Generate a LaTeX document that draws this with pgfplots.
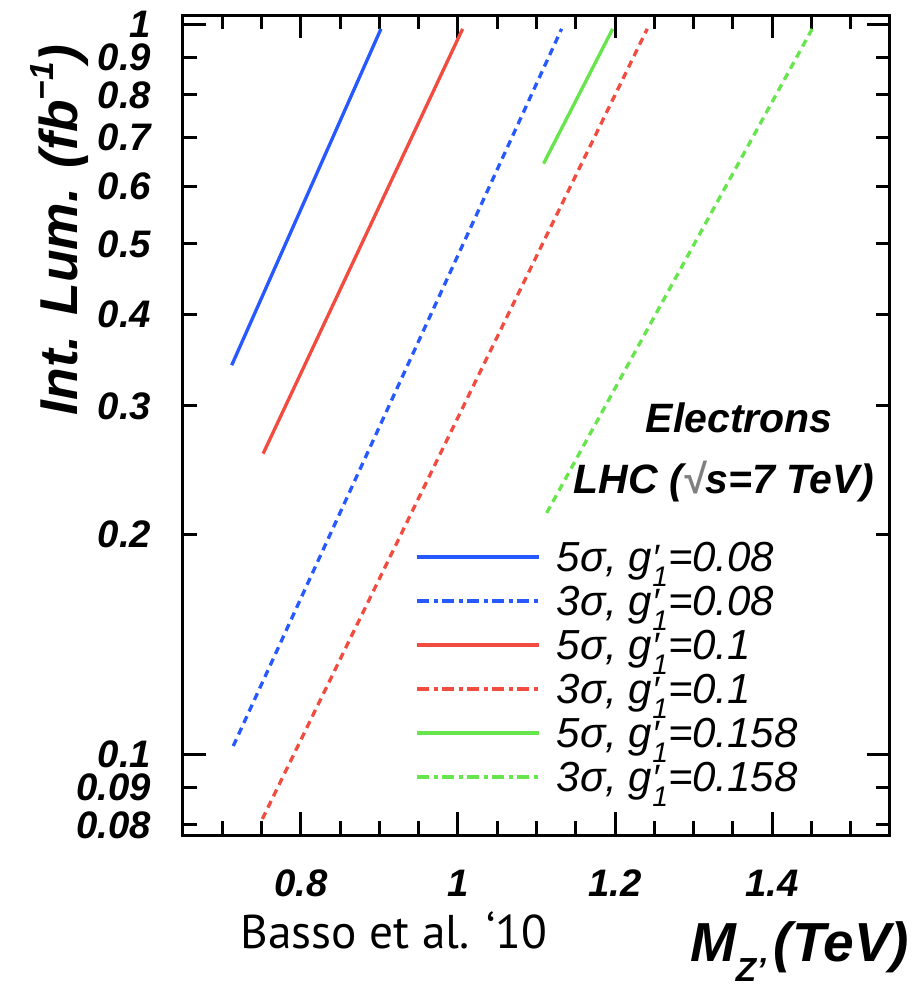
\documentclass[border=0pt]{standalone}
\usepackage{pgfplots}
\pgfplotsset{compat=1.18}
\usepackage{fontspec}
\setmainfont{Liberation Sans}
\newfontfamily\basso{PT Sans}

\definecolor{lblue}{rgb}{0.15,0.35,1}
\definecolor{lred}{rgb}{0.95,0.3,0.25}
\definecolor{lgreen}{rgb}{0.4,0.9,0.3}

% g'_1 in ROOT style: prime above, 1 below
\newcommand{\gone}{g\rlap{\fontsize{11}{11}\selectfont\raisebox{0.05em}{′}}\raisebox{-0.35em}{\fontsize{8.5}{8.5}\selectfont 1}}

\begin{document}
\begin{tikzpicture}
\begin{axis}[
  scale only axis,
  width=212.1pt, height=246pt,
  ymode=log,
  xmin=0.65, xmax=1.55,
  ymin=0.0775, ymax=1.029,
  clip=false,
  axis line style={line width=0.9pt},
  every tick/.style={black, line width=0.9pt},
  tick align=inside, tick pos=both,
  major tick length=7pt, minor tick length=4.3pt,
  xtick={0.8,1,1.2,1.4},
  xticklabels={0.8,1,1.2,1.4},
  minor xtick={0.7,0.75,0.85,0.9,0.95,1.05,1.1,1.15,1.25,1.3,1.35,1.45,1.5},
  ytick={0.1,1},
  yticklabels={0.1,1},
  minor ytick={0.08,0.09,0.2,0.3,0.4,0.5,0.6,0.7,0.8,0.9},
  extra y ticks={0.08,0.09,0.2,0.3,0.4,0.5,0.6,0.7,0.8,0.9},
  extra y tick labels={0.08,0.09,0.2,0.3,0.4,0.5,0.6,0.7,0.8,0.9},
  extra y tick style={tick style={draw=none}},
  /pgf/number format/assume math mode=true,
  tick label style={font=\fontsize{11.5}{12}\selectfont\bfseries\itshape},
  xticklabel style={yshift=-7pt},
  yticklabel style={xshift=-6pt},
  legend style={at={(rel axis cs:0.328,0.357)}, anchor=north west,
    draw=none, fill=none, inner sep=0pt, row sep=1.5pt,
    font=\fontsize{12.6}{13}\selectfont\itshape,
    nodes={inner sep=0pt, text height=8.7pt, text depth=3pt},
    cells={anchor=west},
    /tikz/every odd column/.append style={column sep=4.8pt}},
  legend image code/.code={\draw[#1] (0pt,1.6pt) -- (36.6pt,1.6pt);},
]

% legend entries (dash-dot in the key, dashed in the plot)
\addlegendimage{lblue, line width=1pt}
\addlegendentry{5σ, \gone=0.08}
\addlegendimage{lblue, line width=1pt, dash pattern=on 3.5pt off 1.4pt on 1.2pt off 1.4pt}
\addlegendentry{3σ, \gone=0.08}
\addlegendimage{lred, line width=1pt}
\addlegendentry{5σ, \gone=0.1}
\addlegendimage{lred, line width=1pt, dash pattern=on 3.5pt off 1.4pt on 1.2pt off 1.4pt}
\addlegendentry{3σ, \gone=0.1}
\addlegendimage{lgreen, line width=1pt}
\addlegendentry{5σ, \gone=0.158}
\addlegendimage{lgreen, line width=1pt, dash pattern=on 3.5pt off 1.4pt on 1.2pt off 1.4pt}
\addlegendentry{3σ, \gone=0.158}

% 5 sigma, g1'=0.08
\addplot[lblue, line width=1pt, forget plot] coordinates {(0.712,0.341) (0.902,0.985)};
% 3 sigma, g1'=0.08
\addplot[lblue, line width=1pt, dash pattern=on 2.2pt off 1.6pt, forget plot] coordinates {(0.714,0.1026) (1.132,0.985)};
% 5 sigma, g1'=0.1
\addplot[lred, line width=1pt, forget plot] coordinates {(0.752,0.258) (1.006,0.985)};
% 3 sigma, g1'=0.1
\addplot[lred, line width=1pt, dash pattern=on 2.2pt off 1.6pt, forget plot] coordinates {(0.751,0.0815) (1.241,0.985)};
% 5 sigma, g1'=0.158
\addplot[lgreen, line width=1pt, forget plot] coordinates {(1.109,0.644) (1.197,0.985)};
% 3 sigma, g1'=0.158
\addplot[lgreen, line width=1pt, dash pattern=on 2.2pt off 1.6pt, forget plot] coordinates {(1.113,0.214) (1.451,0.985)};

\node[anchor=west, inner sep=0pt, font=\fontsize{12.3}{13}\selectfont\bfseries\itshape]
  at (rel axis cs:0.6535,0.5085) {Electrons};
\node[anchor=west, inner sep=0pt, font=\fontsize{12.3}{13}\selectfont\bfseries\itshape]
  at (rel axis cs:0.5516,0.4305) {LHC ({\color{gray}√}s=7 TeV)};

\node[rotate=90, inner sep=0pt, font=\fontsize{16}{17}\selectfont\bfseries\itshape]
  at ([xshift=-36.9pt]rel axis cs:0,0.738) {Int. Lum. (fb\raisebox{0.45em}{\fontsize{10}{10}\selectfont −1})};
\node[anchor=east, inner sep=0pt, font=\fontsize{16.5}{17}\selectfont\bfseries\itshape]
  at ([xshift=6pt,yshift=-35pt]rel axis cs:1,0) {M\raisebox{-0.35em}{\fontsize{10}{10}\selectfont Z'}\kern0.15em(TeV)};
\node[anchor=west, inner sep=0pt, font=\basso\fontsize{14.2}{15}\selectfont]
  at ([yshift=-28.5pt]rel axis cs:0.0806,0) {Basso et al. ‘10};
\end{axis}
\pgfresetboundingbox
\path (-54.9pt,-44.7pt) rectangle (220.2pt,250.5pt);
\end{tikzpicture}
\end{document}
